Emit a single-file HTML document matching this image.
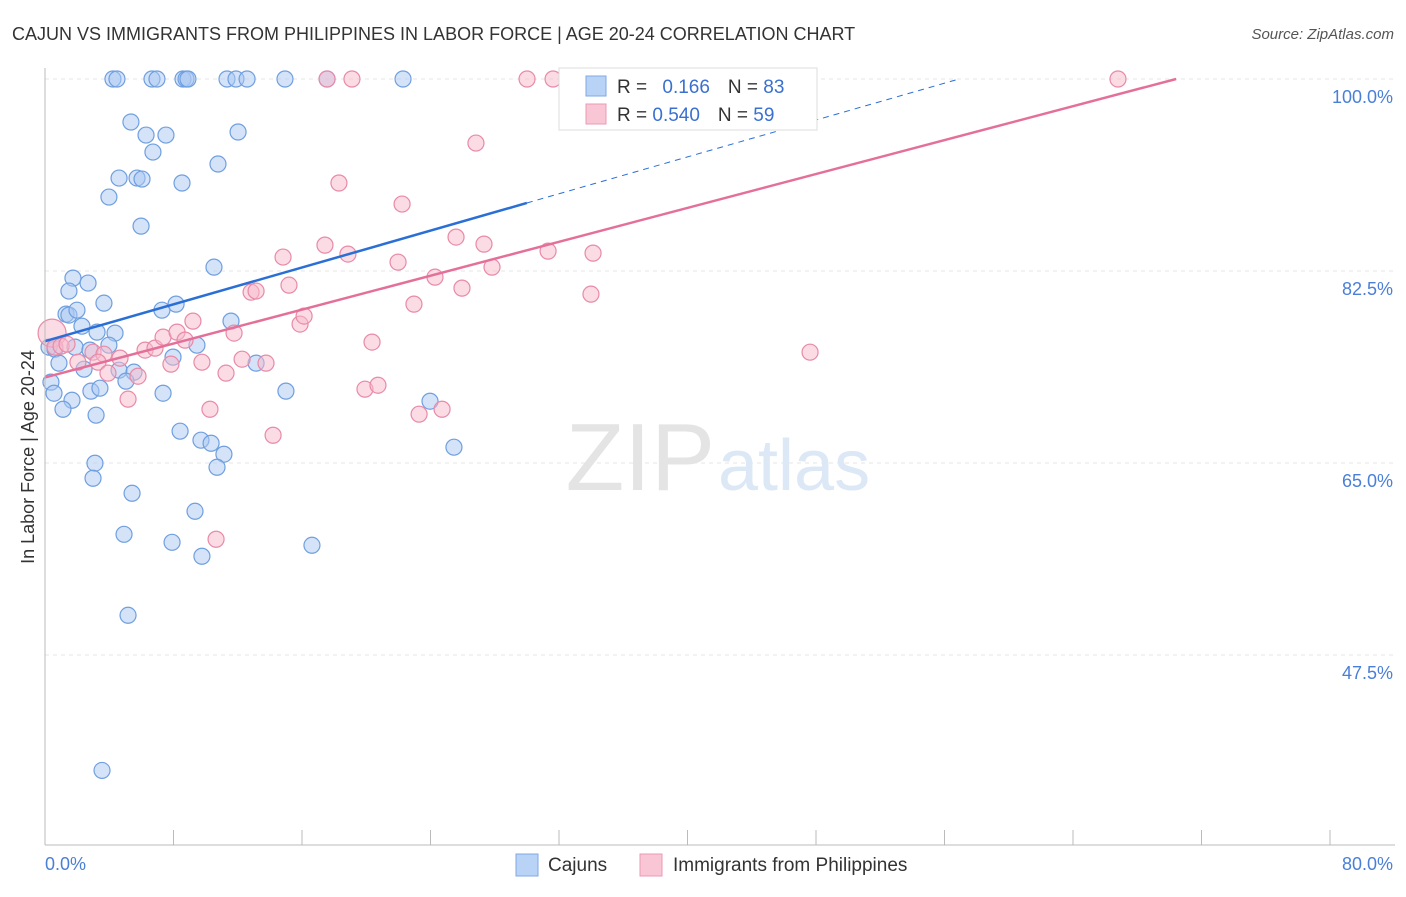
<!DOCTYPE html>
<html><head><meta charset="utf-8"><style>
body{margin:0;background:#fff;font-family:"Liberation Sans",sans-serif;}
svg text{font-family:"Liberation Sans",sans-serif;}
</style></head><body>
<svg width="1406" height="892" viewBox="0 0 1406 892" xmlns="http://www.w3.org/2000/svg">
<text x="12" y="40" font-size="18" fill="#333">CAJUN VS IMMIGRANTS FROM PHILIPPINES IN LABOR FORCE | AGE 20-24 CORRELATION CHART</text>
<text x="1394" y="39" font-size="15" fill="#555" font-style="italic" text-anchor="end">Source: ZipAtlas.com</text>
<g id="grid"></g>
<text x="715" y="490" font-size="96" fill="#e4e4e4" text-anchor="end" font-family="Liberation Serif">ZIP</text>
<text x="718" y="490" font-size="72" fill="#dce8f6">atlas</text>
<g id="marks"></g>
<line x1="45" y1="68" x2="45" y2="845" stroke="#bbb"/>
<line x1="45" y1="845" x2="1395" y2="845" stroke="#bbb"/>
<text x="45" y="870" font-size="18" fill="#4a7fd8">0.0%</text>
<text x="1393" y="870" font-size="18" fill="#4a7fd8" text-anchor="end">80.0%</text>
<text transform="translate(34,457) rotate(-90)" font-size="18" fill="#333" text-anchor="middle">In Labor Force | Age 20-24</text>
<g>
<rect x="559" y="68" width="258" height="62" fill="#fff" stroke="#ddd"/>
<rect x="586" y="76" width="20" height="20" fill="#b8d3f5" stroke="#7ea8e4"/>
<rect x="586" y="104" width="20" height="20" fill="#f9c6d5" stroke="#eb9ab4"/>
<text x="617" y="93" font-size="19" fill="#333">R = <tspan fill="#3a70d0" dx="10">0.166</tspan><tspan dx="18" fill="#333">N = </tspan><tspan fill="#3a70d0">83</tspan></text>
<text x="617" y="121" font-size="19" fill="#333">R = <tspan fill="#3a70d0">0.540</tspan><tspan dx="18" fill="#333">N = </tspan><tspan fill="#3a70d0">59</tspan></text>
</g>
<g>
<rect x="516" y="854" width="22" height="22" fill="#b8d3f5" stroke="#7ea8e4"/>
<text x="548" y="871" font-size="19" fill="#333">Cajuns</text>
<rect x="640" y="854" width="22" height="22" fill="#f9c6d5" stroke="#eb9ab4"/>
<text x="673" y="871" font-size="19" fill="#333">Immigrants from Philippines</text>
</g>
</svg>
<script>
const yTicks=[100,82.5,65,47.5];
const yTickLabels=["100.0%","82.5%","65.0%","47.5%"];
const xTicks=[0,8,16,24,32,40,48,56,64,72,80];
const blueX=[4.23,4.48,6.66,6.97,8.59,8.78,8.90,11.33,11.89,12.58,14.94,17.56,22.29,5.35,6.29,7.53,6.72,12.02,10.77,4.61,5.73,6.04,8.53,3.98,5.98,10.52,1.74,2.68,1.49,3.67,7.28,8.16,1.31,1.49,1.99,2.30,3.24,4.36,11.58,0.25,0.62,1.87,2.80,3.98,9.46,7.97,13.14,0.87,2.43,4.61,5.54,0.37,0.56,2.86,3.42,5.04,7.35,15.0,23.97,1.68,1.12,3.18,8.41,9.71,10.34,11.14,25.46,3.11,10.71,2.99,5.42,9.34,4.92,7.91,9.77,16.62,5.17,3.55];
const blueY=[100,100,100,100,100,100,100,100,100,100,100,100,100,96.08,94.89,94.89,93.34,95.17,92.25,90.97,90.97,90.88,90.52,89.24,86.59,82.85,81.85,81.40,80.67,79.57,78.93,79.48,78.57,78.48,78.93,77.47,76.93,76.84,77.93,75.56,75.38,75.56,75.29,75.74,75.74,74.65,74.10,74.10,73.55,73.46,73.28,72.37,71.36,71.55,71.82,72.46,71.36,71.55,70.63,70.72,69.90,69.36,67.90,67.08,66.80,65.80,66.44,64.98,64.61,63.61,62.24,60.60,58.50,57.77,56.50,57.50,51.12,36.98];
const pinkX=[0.44,0.62,1.0,1.37,2.05,2.99,3.67,3.30,4.67,3.92,5.17,5.79,6.23,6.85,7.35,7.84,8.22,8.72,9.21,9.77,10.27,11.27,11.77,12.27,12.83,13.14,13.76,14.20,14.82,15.19,15.88,16.13,17.43,17.56,18.30,18.86,19.11,19.92,20.36,20.73,21.98,22.23,22.97,23.29,24.28,24.72,25.59,25.96,26.83,27.33,27.83,30.01,31.32,31.63,33.99,34.12,47.63,66.80,10.65];
const pinkY=[76.84,75.56,75.65,75.83,74.19,75.10,74.92,74.19,74.56,73.19,70.82,72.91,75.29,75.47,76.47,74.01,76.93,76.20,77.93,74.19,69.90,73.19,76.84,74.46,80.57,80.67,74.10,67.53,83.77,81.21,77.66,78.39,84.86,100,90.52,84.04,100,71.73,76.02,72.09,83.31,88.60,79.48,69.45,81.94,69.90,85.59,80.94,94.16,84.95,82.85,100,84.31,100,80.39,84.13,75.10,100,58.05];
const blueTrend=[76.1,109.7];
const pinkTrend=[72.8,103.7];
const NS="http://www.w3.org/2000/svg";
function sx(v){return 45+v*(1285/80);}
function sy(v){return 79+(100-v)*(192/17.5);}
const grid=document.getElementById('grid'),marks=document.getElementById('marks');
function mk(tag,attrs,parent){const e=document.createElementNS(NS,tag);for(const k in attrs)e.setAttribute(k,attrs[k]);parent.appendChild(e);return e;}
yTicks.forEach((t,i)=>{
 const l=mk('line',{x1:45,x2:1395,y1:sy(t),y2:sy(t),stroke:'#e6e6e6','stroke-dasharray':'4,4'},grid);
 
 
 const tx=mk('text',{x:1393,y:sy(t)+24,'font-size':18,fill:'#4a7fd8','text-anchor':'end'},grid);
 tx.textContent=yTickLabels[i];
 
 
});
xTicks.forEach(t=>{
 const l=mk('line',{x1:sx(t),x2:sx(t),y1:830,y2:845,stroke:'#bbb'},grid);
 
 
});
function pts(xs,ys,fill,stroke,name){
 xs.forEach((x,i)=>{
  const r=(name==='pink-point'&&i===0)?14:8;
  const c=mk('circle',{cx:sx(x),cy:sy(ys[i]),r:r,fill:fill,'fill-opacity':0.5,stroke:stroke,'stroke-width':1.2},marks);
  
  
 });
}
pts(blueX,blueY,'#a9c8f2','#6f9fe0','blue-point');
pts(pinkX,pinkY,'#f7b9cc','#e88aa8','pink-point');
// blue trend
function ly(tr,x){return tr[0]+(tr[1]-tr[0])*x/80;}
const bxEnd=(100-blueTrend[0])/(blueTrend[1]-blueTrend[0])*80;
const b1=mk('line',{x1:sx(0),y1:sy(ly(blueTrend,0)),x2:sx(30),y2:sy(ly(blueTrend,30)),stroke:'#2a6fd6','stroke-width':2.5},marks);


const b2=mk('line',{x1:sx(30),y1:sy(ly(blueTrend,30)),x2:sx(bxEnd),y2:sy(100),stroke:'#2a6fd6','stroke-width':1,'stroke-dasharray':'6,5'},marks);


const pxEnd=(100-pinkTrend[0])/(pinkTrend[1]-pinkTrend[0])*80;
const p1=mk('line',{x1:sx(0),y1:sy(ly(pinkTrend,0)),x2:sx(pxEnd),y2:sy(100),stroke:'#e4709a','stroke-width':2.5},marks);


</script>
</body></html>
